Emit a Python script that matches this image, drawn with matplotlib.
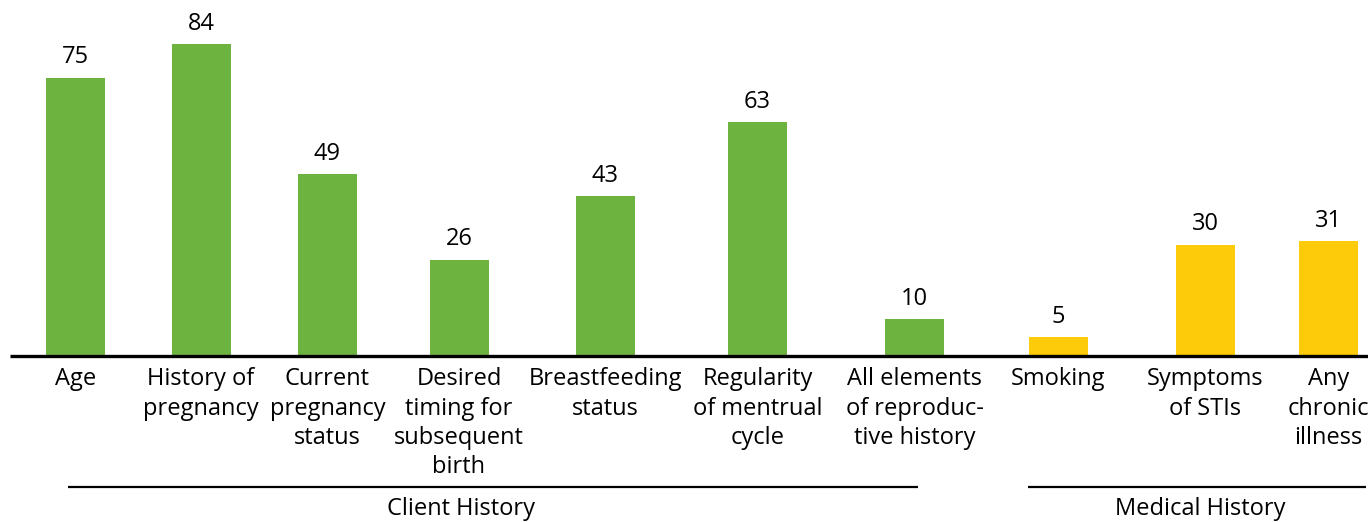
import matplotlib.pyplot as plt

plt.rcParams['font.family'] = ['Open Sans', 'DejaVu Sans']

categories = ["Age", "History of\npregnancy", "Current\npregnancy\nstatus",
              "Desired\ntiming for\nsubsequent\nbirth", "Breastfeeding\nstatus",
              "Regularity\nof mentrual\ncycle", "All elements\nof reproduc-\ntive history",
              "Smoking", "Symptoms\nof STIs", "Any\nchronic\nillness"]
values = [75, 84, 49, 26, 43, 63, 10, 5, 30, 31]
groups = ["Client History"] * 7 + ["Medical History"] * 3
group_names = ["Client History", "Medical History"]

colors = {"Client History": "#6db33f", "Medical History": "#fdcb0a"}

# layout (pixel positions of the original)
W, H = 1368, 522
xpos = [75.5, 201, 327.5, 459, 605.5, 757.5, 914.5, 1058.5, 1205.5, 1328.5]
bar_w = 59
base_px = 356
px_per_unit = 3.71
group_lines = {"Client History": (68, 918), "Medical History": (1028, 1366)}
group_text_x = {"Client History": 461, "Medical History": 1200}

fig = plt.figure(figsize=(W / 100, H / 100), dpi=100)
ax = fig.add_axes([0, (H - base_px) / H, 1, base_px / H])
ax.set_xlim(0, W)
ax.set_ylim(0, base_px / px_per_unit)
ax.axis('off')

ax.bar(xpos, values, width=bar_w, color=[colors[g] for g in groups])
for x, v in zip(xpos, values):
    ax.annotate(str(v), (x, v), xytext=(0, 6), textcoords='offset points',
                ha='center', va='bottom', fontsize=17)

# baseline
ax.plot([10, W], [0, 0], color='black', lw=2.4, clip_on=False, solid_capstyle='butt')

for x, lab in zip(xpos, categories):
    ax.annotate(lab, (x, 0), xytext=(0, -8), textcoords='offset points',
                ha='center', va='top', fontsize=17, linespacing=1.3,
                annotation_clip=False)

# group brackets
fax = fig.add_axes([0, 0, 1, 1], facecolor='none')
fax.set_xlim(0, W)
fax.set_ylim(H, 0)
fax.axis('off')
for g in group_names:
    x0, x1 = group_lines[g]
    fax.plot([x0, x1], [487, 487], color='black', lw=1.6, solid_capstyle='butt')
    fax.text(group_text_x[g], 521, g, ha='center', va='bottom', fontsize=17)

fig.savefig('out.png', dpi=100)
